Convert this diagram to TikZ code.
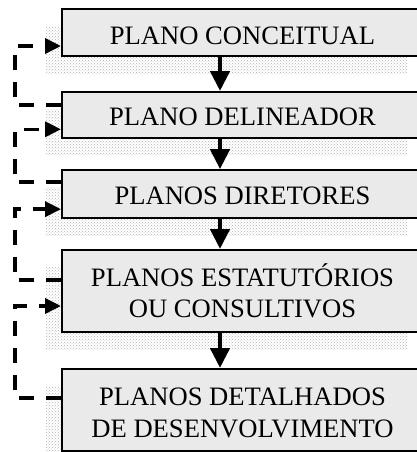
\documentclass[tikz,border=0pt]{standalone}
\usepackage{fontspec}
\setmainfont{Liberation Serif}
\usetikzlibrary{arrows.meta,patterns,calc}
\definecolor{boxgray}{RGB}{234,234,234}
\tikzset{
  box/.style={draw=black, line width=2pt, fill=boxgray, minimum width=361pt, inner sep=0pt, rectangle},
  shadowbox/.style={pattern=crosshatch dots, pattern color=black!30, draw=none},
  lbl/.style={inner sep=0pt, anchor=base, font=\fontsize{26.6}{31.5}\selectfont},
  down/.style={line width=4.5pt, -{Triangle[length=20pt,width=19pt]}},
  fb/.style={line width=3.5pt, dash pattern=on 15pt off 12pt, -{Triangle[length=16pt,width=15pt]}}
}
\begin{document}
\begin{tikzpicture}[x=1pt,y=-1pt]
\useasboundingbox (0,0) rectangle (417,452);
\clip (0,0) rectangle (417,452);
% shadows
\fill[shadowbox] (46,26.3) rectangle (407,73);
\fill[shadowbox] (46,109) rectangle (407,155.3);
\fill[shadowbox] (46,187) rectangle (407,235.3);
\fill[shadowbox] (46,267) rectangle (407,349);
\fill[shadowbox] (46,386) rectangle (407,468);
% boxes
\node[box, minimum height=46.7pt] (b1) at (242.5,32.65) {};
\node[box, minimum height=46.3pt] (b2) at (242.5,115.15) {};
\node[box, minimum height=48pt] (b3) at (242.5,194.15) {};
\node[box, minimum height=82pt] (b4) at (242.5,291) {};
\node[box, minimum height=82pt] (b5) at (242.5,410) {};
% texts
\node[lbl] (t1) at (242.5,44.5) {PLANO CONCEITUAL};
\node[lbl] (t2) at (242.5,125) {PLANO DELINEADOR};
\node[lbl] (t3) at (242.5,204) {PLANOS DIRETORES};
\node[lbl] (t4a) at (242.5,286.5) {PLANOS ESTATUTÓRIOS};
\node[lbl] (t4b) at (242.5,317.5) {OU CONSULTIVOS};
\node[lbl] (t5a) at (242.5,405) {PLANOS DETALHADOS};
\node[lbl] (t5b) at (242.5,437) {DE DESENVOLVIMENTO};
% down arrows
\coordinate (ax) at (220,0);
\draw[down] (b1.south -| ax) -- (b2.north -| ax);
\draw[down] (b2.south -| ax) -- (b3.north -| ax);
\draw[down] (b3.south -| ax) -- (b4.north -| ax);
\draw[down] (b4.south -| ax) -- (b5.north -| ax);
% feedback dashed arrows
\coordinate (L) at (15,0);
\coordinate (i1) at ($(b1.south west)+(0,-11)$);
\coordinate (o2) at ($(b2.north west)+(0,14)$);
\coordinate (i2) at ($(b2.south west)+(0,-10)$);
\coordinate (o3) at ($(b3.north west)+(0,13)$);
\coordinate (i3) at ($(b3.south west)+(0,-10)$);
\coordinate (o4) at ($(b4.north west)+(0,31)$);
\coordinate (i4) at ($(b4.south west)+(0,-27)$);
\coordinate (o5) at ($(b5.north west)+(0,30)$);
\draw[fb] (o2) -- (o2 -| L) -- (i1 -| L) -- (i1);
\draw[fb] (o3) -- (o3 -| L) -- (i2 -| L) -- (i2);
\draw[fb] (o4) -- (o4 -| L) -- (i3 -| L) -- (i3);
\draw[fb] (o5) -- (o5 -| L) -- (i4 -| L) -- (i4);
\end{tikzpicture}
\end{document}
